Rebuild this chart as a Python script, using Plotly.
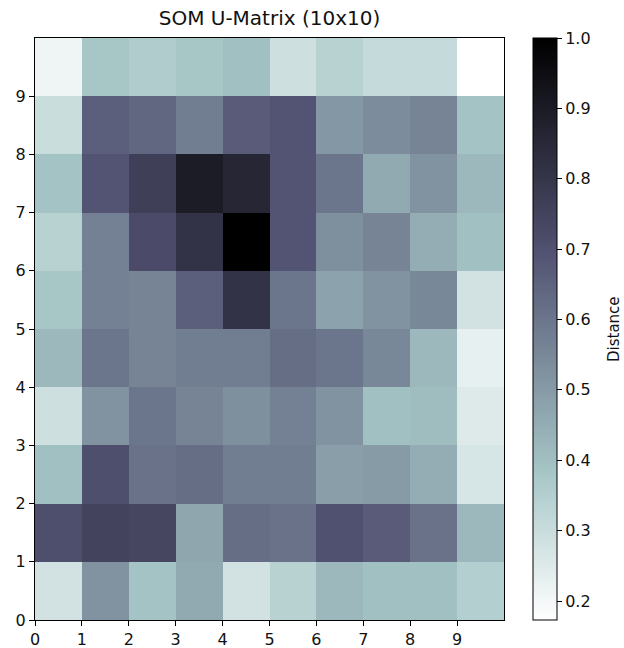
import plotly.graph_objects as go

x_edges = list(range(11))
y_edges = list(range(11))
tick_vals = list(range(10))
cbar_ticks = [0.2, 0.3, 0.4, 0.5, 0.6, 0.7, 0.8, 0.9, 1.0]

# U-matrix distances, row 0 = bottom (y 0-1), row 9 = top
row0 = [0.28, 0.52, 0.39, 0.46, 0.28, 0.34, 0.42, 0.40, 0.40, 0.35]
row1 = [0.71, 0.75, 0.74, 0.47, 0.62, 0.61, 0.70, 0.67, 0.61, 0.42]
row2 = [0.40, 0.71, 0.61, 0.62, 0.58, 0.58, 0.49, 0.50, 0.45, 0.27]
row3 = [0.29, 0.52, 0.60, 0.56, 0.53, 0.57, 0.52, 0.40, 0.41, 0.25]
row4 = [0.42, 0.60, 0.56, 0.58, 0.58, 0.62, 0.60, 0.55, 0.42, 0.23]
row5 = [0.38, 0.57, 0.56, 0.66, 0.81, 0.60, 0.48, 0.52, 0.55, 0.28]
row6 = [0.34, 0.57, 0.72, 0.81, 1.00, 0.69, 0.53, 0.56, 0.45, 0.40]
row7 = [0.39, 0.69, 0.765, 0.896, 0.858, 0.69, 0.60, 0.46, 0.52, 0.42]
row8 = [0.30, 0.66, 0.64, 0.58, 0.67, 0.69, 0.51, 0.54, 0.56, 0.39]
row9 = [0.21, 0.38, 0.36, 0.38, 0.40, 0.29, 0.34, 0.31, 0.31, 0.173]
z = [row0, row1, row2, row3, row4, row5, row6, row7, row8, row9]

vmin, vmax = 0.173, 1.0

# matplotlib bone_r colormap
bone_r = [
    [0.0, "rgb(255,255,255)"],
    [0.253968, "rgb(166,198,198)"],
    [0.634921, "rgb(81,81,113)"],
    [1.0, "rgb(0,0,0)"],
]

L, R, T, B = 35, 120, 38, 28
W, H = 624, 648
pw = W - L - R

fig = go.Figure(go.Heatmap(
    z=z, x=x_edges, y=y_edges,
    colorscale=bone_r, zmin=vmin, zmax=vmax,
    colorbar=dict(
        x=(533 - L) / pw, xanchor="left", xpad=0, y=0.5, yanchor="middle", ypad=0,
        len=1.0, lenmode="fraction", thickness=24,
        outlinewidth=1, outlinecolor="black",
        tickvals=cbar_ticks, ticktext=[f"{v:.1f}" for v in cbar_ticks],
        ticks="outside", ticklen=5, tickcolor="black",
        tickfont=dict(size=16, color="#111"),
    ),
))

axis_common = dict(
    showgrid=False, zeroline=False, showline=True, linecolor="black",
    linewidth=1.2, mirror=True, ticks="outside", ticklen=5, tickcolor="black",
    tickfont=dict(size=16, color="#111"), range=[0, 10],
    tickvals=tick_vals,
)

fig.update_layout(
    width=W, height=H,
    margin=dict(l=L, r=R, t=T, b=B, autoexpand=False),
    paper_bgcolor="white", plot_bgcolor="white",
    font=dict(family="DejaVu Sans", color="#111"),
    title=dict(text="SOM U-Matrix (10x10)", x=(L + pw / 2) / W, xanchor="center",
               y=1 - 18 / H, yanchor="middle", font=dict(size=20, color="#111")),
    xaxis=axis_common,
    yaxis=axis_common,
    annotations=[dict(text="Distance", textangle=-90, xref="paper", yref="paper",
                      x=(614 - L) / pw, y=0.5, xanchor="center", yanchor="middle",
                      showarrow=False, font=dict(size=15, color="#111"))],
)

fig.write_html("out.html", config={"displayModeBar": False},
               post_script="document.body.style.margin='0px';document.body.style.overflow='hidden';")
